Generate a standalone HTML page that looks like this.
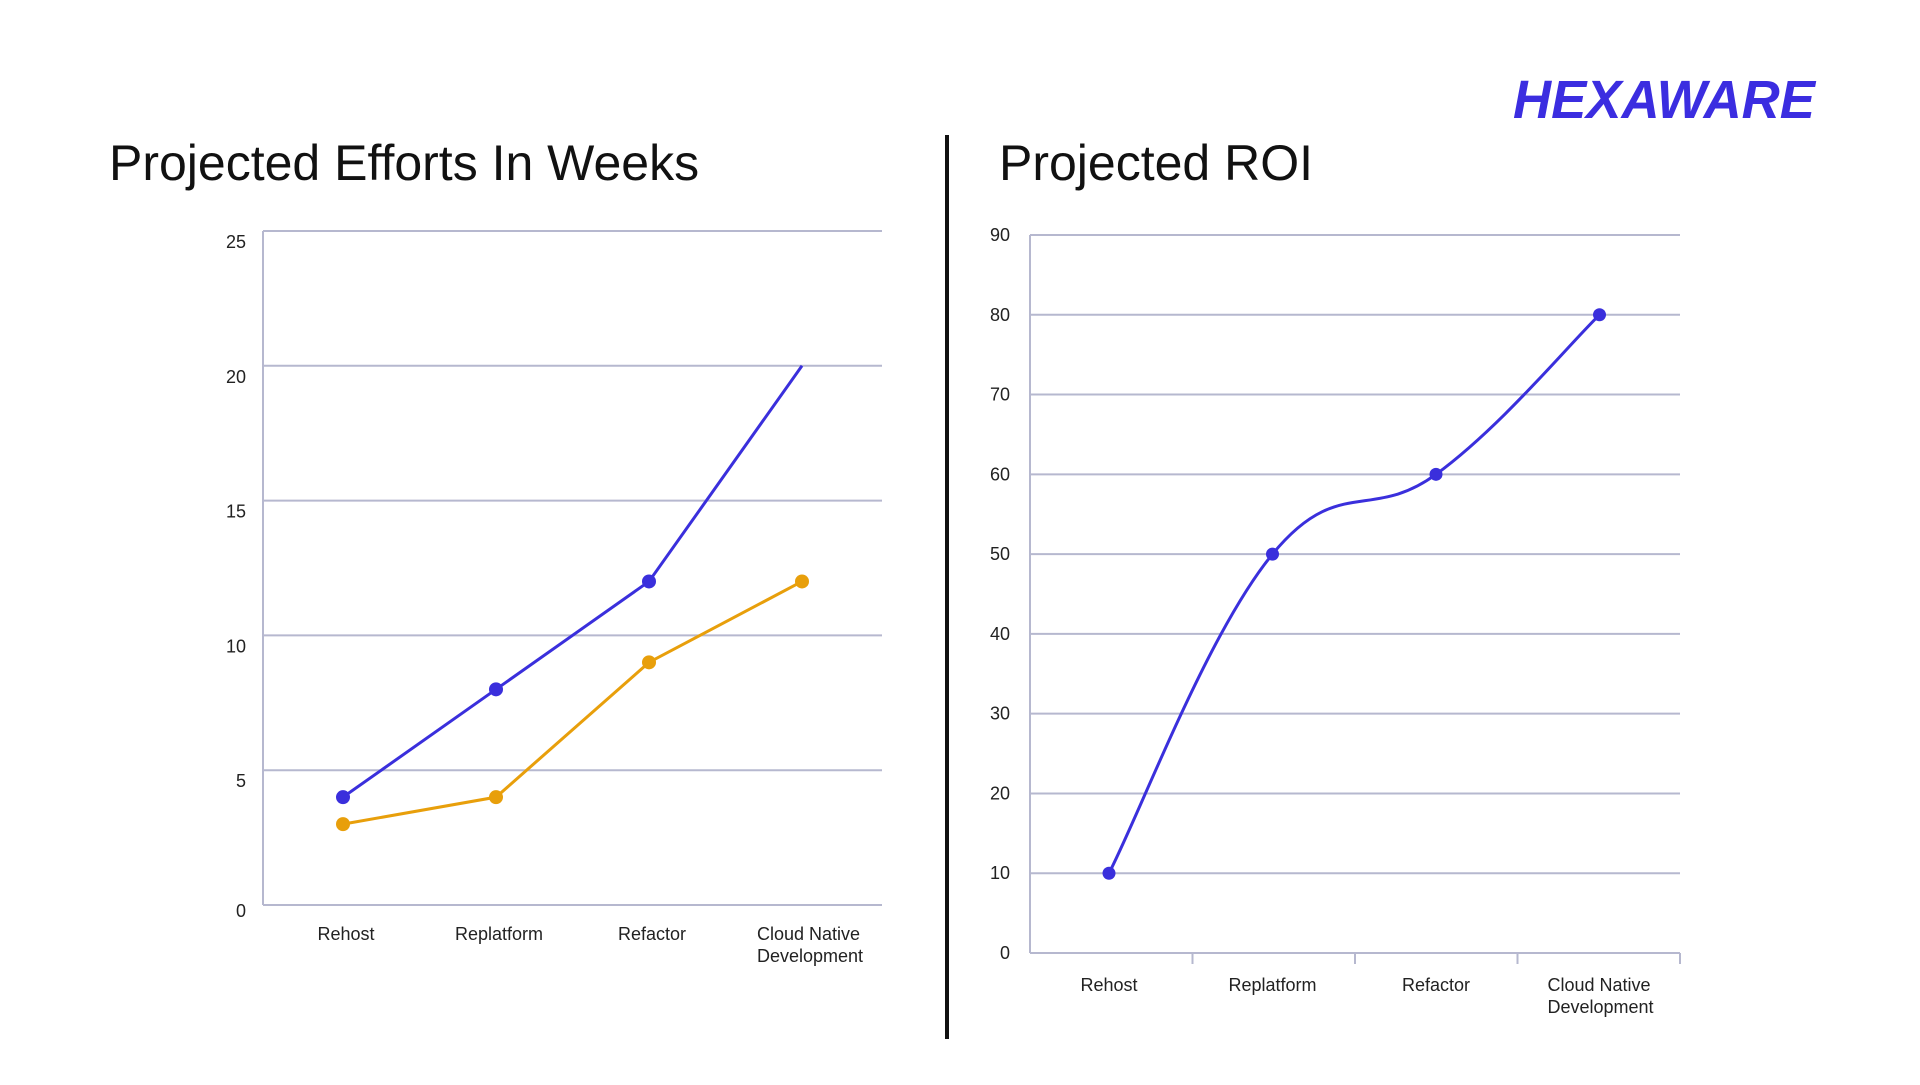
<!DOCTYPE html>
<html><head><meta charset="utf-8"><style>
body{margin:0;background:#fff;width:1920px;height:1080px;overflow:hidden;font-family:"Liberation Sans",sans-serif}
svg text{font-family:"Liberation Sans",sans-serif}
</style></head><body>
<svg id="s" width="1920" height="1080">
<text x="1513" y="118" font-size="54" font-weight="bold" font-style="italic" fill="#3b2de0" textLength="302" lengthAdjust="spacingAndGlyphs">HEXAWARE</text>
<text x="109" y="180" font-size="50" fill="#111">Projected Efforts In Weeks</text>
<text x="999" y="180" font-size="50" fill="#111">Projected ROI</text>
<line x1="947" y1="135" x2="947" y2="1039" stroke="#111" stroke-width="4"/>
<g id="c1"></g>
<g id="c2"></g>
</svg>
<script>
const categories=["Rehost","Replatform","Refactor","Cloud Native|Development"];
const effortsBlue=[4,8,12,20];
const effortsOrange=[3,4,9,12];
const effortsTicks=[0,5,10,15,20,25];
const roiValues=[10,50,60,80];
const roiTicks=[0,10,20,30,40,50,60,70,80,90];
const NS="http://www.w3.org/2000/svg";
const BLUE="#3a2fdc",ORANGE="#e89f0b",GRID="#b6b8cf";
function mk(p,t,a){const e=document.createElementNS(NS,t);for(const k in a)e.setAttribute(k,a[k]);p.appendChild(e);return e;}
// chart 1
const g1=document.getElementById('c1');
const y1=v=>905-v*(905-231)/25;
const x1=i=>343+i*153;
effortsTicks.forEach(t=>{
 const l=mk(g1,'line',{x1:263,x2:882,y1:y1(t),y2:y1(t),stroke:GRID,'stroke-width':2});
 
 
 const tx=mk(g1,'text',{x:246,y:y1(t)+(t==0?12:17),'text-anchor':'end','font-size':18,fill:'#222'});
 tx.textContent=t;
 
 
});
const a1=mk(g1,'line',{x1:263,x2:263,y1:231,y2:905,stroke:GRID,'stroke-width':2});


categories.forEach((c,i)=>{
 const parts=c.split('|');
 parts.forEach((p,j)=>{
  const tx=mk(g1,'text',{x:parts.length>1?x1(i)-45:x1(i)+3,y:940+j*22,'text-anchor':parts.length>1?'start':'middle','font-size':18,fill:'#222'});
  tx.textContent=p;
  
  
 });
});
function series(g,vals,col,name,dotLast){
 const pts=vals.map((v,i)=>[x1(i),y1(v)]);
 const pl=mk(g,'polyline',{points:pts.map(p=>p.join(',')).join(' '),fill:'none',stroke:col,'stroke-width':3});
 
 
 pts.forEach((p,i)=>{if(!dotLast&&i==pts.length-1)return;
  const c=mk(g,'circle',{cx:p[0],cy:p[1],r:7,fill:col});
  
  
 });
}
series(g1,effortsOrange,ORANGE,'efforts-orange',true);
series(g1,effortsBlue,BLUE,'efforts-blue',false);
// chart 2
const g2=document.getElementById('c2');
const y2=v=>953-v*(953-235)/90;
const x2=i=>1109+i*163.5;
roiTicks.forEach(t=>{
 const l=mk(g2,'line',{x1:1030,x2:1680,y1:y2(t),y2:y2(t),stroke:GRID,'stroke-width':2});
 
 
 const tx=mk(g2,'text',{x:1010,y:y2(t)+6,'text-anchor':'end','font-size':18,fill:'#222'});
 tx.textContent=t;
 
 
});
const a2=mk(g2,'line',{x1:1030,x2:1030,y1:235,y2:953,stroke:GRID,'stroke-width':2});


for(let i=1;i<=4;i++){
 const tk=mk(g2,'line',{x1:1030+i*162.5,x2:1030+i*162.5,y1:953,y2:964,stroke:GRID,'stroke-width':2});
 
 
}
categories.forEach((c,i)=>{
 const parts=c.split('|');
 parts.forEach((p,j)=>{
  const tx=mk(g2,'text',{x:parts.length>1?x2(i)-52:x2(i),y:991+j*22,'text-anchor':parts.length>1?'start':'middle','font-size':18,fill:'#222'});
  tx.textContent=p;
  
  
 });
});
const P=roiValues.map((v,i)=>[x2(i),y2(v)]);
let d='M'+P[0].join(',');
for(let i=0;i<P.length-1;i++){
 const p0=P[Math.max(0,i-1)],p1=P[i],p2=P[i+1],p3=P[Math.min(P.length-1,i+2)];
 const k=0.2;
 d+=` C${p1[0]+(p2[0]-p0[0])*k},${p1[1]+(p2[1]-p0[1])*k} ${p2[0]-(p3[0]-p1[0])*k},${p2[1]-(p3[1]-p1[1])*k} ${p2[0]},${p2[1]}`;
}
const rp=mk(g2,'path',{d:d,fill:'none',stroke:BLUE,'stroke-width':3});


P.forEach(p=>{
 const c=mk(g2,'circle',{cx:p[0],cy:p[1],r:6.5,fill:BLUE});
 
 
});
</script>
</body></html>
